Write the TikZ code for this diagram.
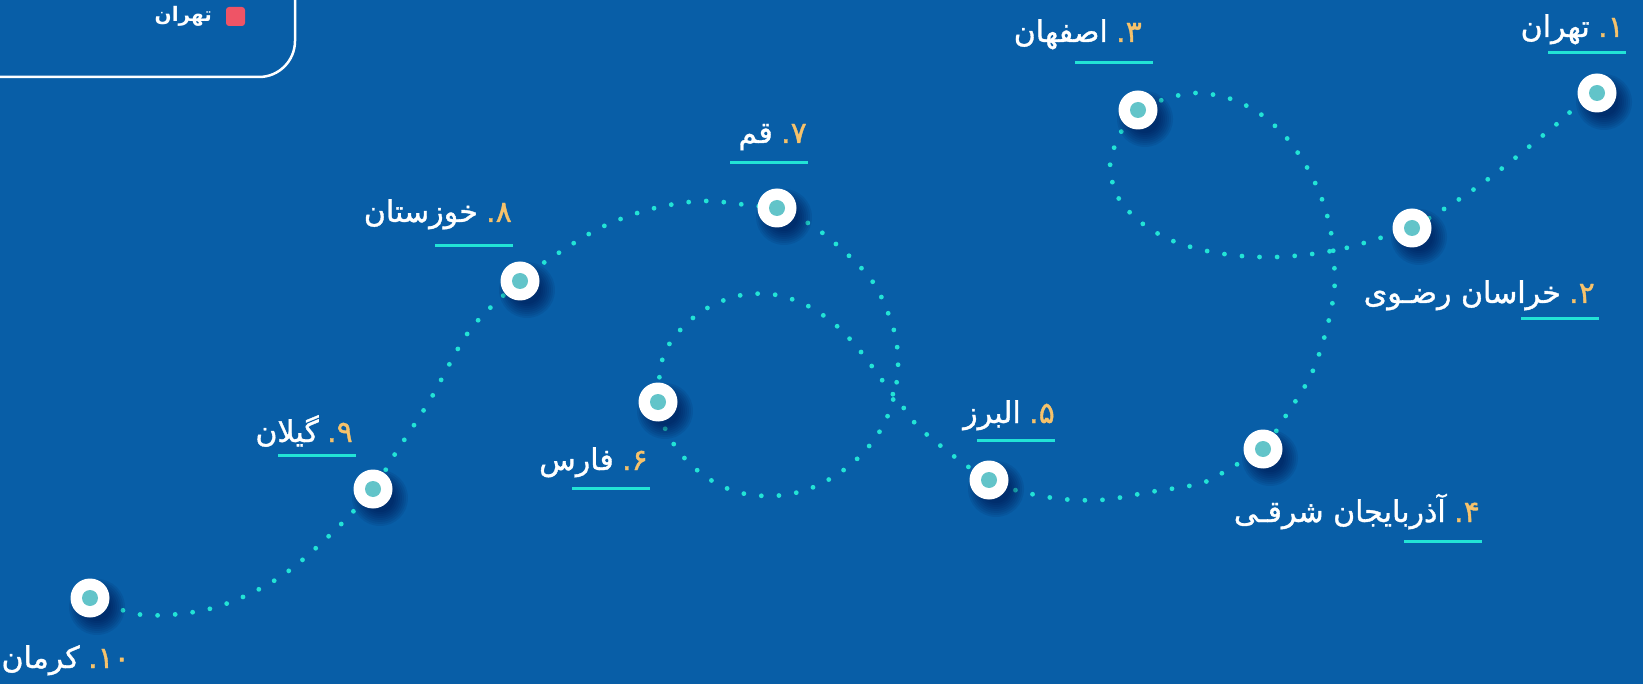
\documentclass[tikz,border=0pt]{standalone}
\usepackage{fontspec}
\newfontfamily\arabicfont[Script=Arabic, FakeBold=1.2]{DejaVu Sans}
\newfontfamily\arabicbold[Script=Arabic]{DejaVu Sans Bold}
\TeXXeTstate=1
\definecolor{bgblue}{HTML}{085EA7}
\definecolor{dotc}{HTML}{22E3D6}
\definecolor{innerc}{HTML}{62C4C9}
\definecolor{numc}{HTML}{F6C26B}
\definecolor{redsq}{HTML}{EF5466}
\tikzset{
  stop/.style={circle, fill=white, minimum size=39pt, inner sep=0pt,
    path picture={\fill[innerc] (path picture bounding box.center) circle (8pt);}},
  nametxt/.style={text=white, inner sep=0pt, font=\arabicfont\fontsize{30}{33}\selectfont},
  numtxt/.style={text=numc, inner sep=0pt, font=\arabicfont\fontsize{30}{33}\selectfont},
  uline/.style={draw=dotc, line width=3pt},
  dotpath/.style={draw=dotc, line width=4.8pt, line cap=round, dash pattern=on 0pt off 17.6pt},
}
\newcommand{\placestop}[2]{% id, coordinate
  \foreach \rr in {28,26,...,14} {\fill[black!80!blue, opacity=0.08] ([xshift=7pt,yshift=-9pt]#2) circle (\rr pt);}
  \node[stop] (n#1) at (#2) {};
}
\newcommand{\placelabel}[5]{% id, xr, yb, num, name
  \node[numtxt, anchor=base east] (num#1) at (#2,#3) {\hbox{.}\hbox{#4}};
  \node[nametxt, anchor=base east] (name#1) at ([xshift=-8pt]num#1.base west) {#5};
}
\begin{document}
\begin{tikzpicture}[x=1pt,y=-1pt]
\useasboundingbox (0,0) rectangle (1643,684);
\fill[bgblue] (0,0) rectangle (1643,684);
% legend
\begin{scope}
\clip (0,0) rectangle (1643,684);
\draw[white, line width=2.5pt, rounded corners=36pt] (-60,-60) rectangle (295,77);
\end{scope}
\node[fill=redsq, rounded corners=3pt, minimum size=19pt, inner sep=0pt] (legsq) at (235.5,16.5) {};
\node[anchor=base east, inner sep=0pt, text=white, font=\arabicbold\fontsize{20}{24}\selectfont] (legtxt) at (212,22) {\beginR تهران\endR};
% stop positions
\coordinate (c1) at (1597,93);
\coordinate (c2) at (1412,228);
\coordinate (c3) at (1138,110);
\coordinate (c4) at (1263,449);
\coordinate (c5) at (989,480);
\coordinate (c6) at (658,402);
\coordinate (c7) at (777,208);
\coordinate (c8) at (520,281);
\coordinate (c9) at (373,489);
\coordinate (c10) at (90,598);
% path
\draw[dotpath] plot[smooth, tension=0.55] coordinates {
 (c10) (144,615) (213,608) (277,579) (330,535) (c9) (395,454)
 (430,400) (470,330) (c8) (557,254) (602,227) (651,209) (703,201) (755,206)
 (c7) (820,231) (870,278) (892,324) (898,358) (895,392) (884,424) (864,452)
 (838,474) (806,490) (772,496) (737,492) (706,477) (680,453) (663,424) (c6)
 (663,357) (682,328) (709,307) (742,295) (777,295) (810,307) (838,327) (861,352)
 (882,380) (903,407) (925,433) (c5) (1047,497) (1100,500) (1150,492)
 (1202,483) (1232,467) (c4) (1283,420) (1310,377) (1325,335) (1334,293)
 (1334,261) (1330,227) (1320,194) (1305,164) (1285,136) (1259,113) (1228,98)
 (1193,93) (1159,101) (c3) (1120,134) (1110,166) (1119,199) (1143,224)
 (1173,241) (1207,251) (1241,256) (1277,257) (1312,254) (1346,248) (1380,238)
 (c2) (1480,185) (1552,128) (1577,106) (c1)};
% stops
\placestop{1}{c1}
\placestop{2}{c2}
\placestop{3}{c3}
\placestop{4}{c4}
\placestop{5}{c5}
\placestop{6}{c6}
\placestop{7}{c7}
\placestop{8}{c8}
\placestop{9}{c9}
\placestop{10}{c10}
% labels
\placelabel{1}{1624}{37}{۱}{\beginR تهران\endR}
\placelabel{2}{1595}{303}{۲}{\beginR خراسان رضـوی\endR}
\placelabel{3}{1142}{42}{۳}{\beginR اصفهان\endR}
\placelabel{4}{1480}{522}{۴}{\beginR آذربایجان شرقـی\endR}
\placelabel{5}{1055}{423}{۵}{\beginR البرز\endR}
\placelabel{6}{648}{470}{۶}{\beginR فارس\endR}
\placelabel{7}{807}{143}{۷}{\beginR قم\endR}
\placelabel{8}{512}{222}{۸}{\beginR خوزستان\endR}
\placelabel{9}{353}{442}{۹}{\beginR گیلان\endR}
\placelabel{10}{130}{668}{۱۰}{\beginR کرمان\endR}
% underlines
\draw[uline] (1548,53) -- (1626,53);
\draw[uline] (1521,319) -- (1599,319);
\draw[uline] (1075,63) -- (1153,63);
\draw[uline] (1404,541) -- (1482,541);
\draw[uline] (977,440) -- (1055,440);
\draw[uline] (572,488) -- (650,488);
\draw[uline] (730,163) -- (808,163);
\draw[uline] (435,246) -- (513,246);
\draw[uline] (278,455) -- (356,455);
\end{tikzpicture}
\end{document}
